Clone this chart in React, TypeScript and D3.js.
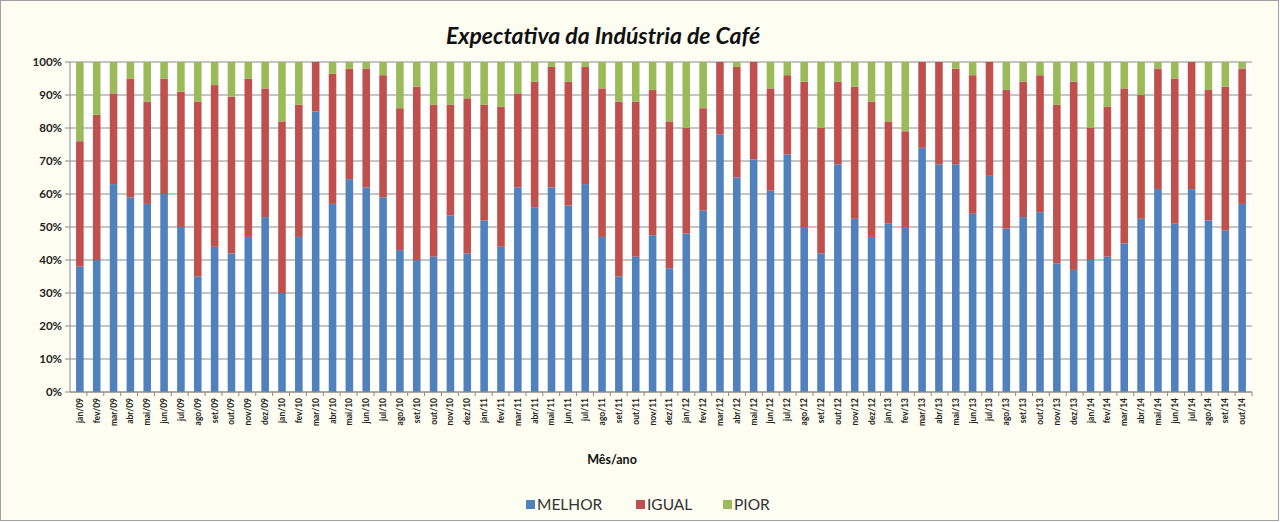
import { useMemo } from "react";
import * as d3 from "d3";

// Mês/ano, jan/09 .. out/14
const months = [
  "jan/09", "fev/09", "mar/09", "abr/09", "mai/09", "jun/09", "jul/09", "ago/09", "set/09", "out/09", "nov/09", "dez/09",
  "jan/10", "fev/10", "mar/10", "abr/10", "mai/10", "jun/10", "jul/10", "ago/10", "set/10", "out/10", "nov/10", "dez/10",
  "jan/11", "fev/11", "mar/11", "abr/11", "mai/11", "jun/11", "jul/11", "ago/11", "set/11", "out/11", "nov/11", "dez/11",
  "jan/12", "fev/12", "mar/12", "abr/12", "mai/12", "jun/12", "jul/12", "ago/12", "set/12", "out/12", "nov/12", "dez/12",
  "jan/13", "fev/13", "mar/13", "abr/13", "mai/13", "jun/13", "jul/13", "ago/13", "set/13", "out/13", "nov/13", "dez/13",
  "jan/14", "fev/14", "mar/14", "abr/14", "mai/14", "jun/14", "jul/14", "ago/14", "set/14", "out/14",
];

// percent shares
const melhor = [
  38, 40, 63, 59, 57, 60, 50, 35, 44, 42, 47, 53,
  30, 47, 85, 57, 64.5, 62, 59, 43, 40, 41, 53.5, 42,
  52, 44, 62, 56, 62, 56.5, 63, 47, 35, 41, 47.5, 37.5,
  48, 55, 78, 65, 70.5, 61, 72, 50, 42, 69, 52.5, 47,
  51, 50, 74, 69, 69, 54, 65.5, 49.5, 53, 54.5, 39, 37,
  40, 41, 45, 52.5, 61.5, 51, 61.5, 52, 49, 57,
];
const igual = [
  38, 44, 27.5, 36, 31, 35, 41, 53, 49, 47.5, 48, 39,
  52, 40, 15, 39.5, 33.5, 36, 37, 43, 52.5, 46, 33.5, 47,
  35, 42.5, 28.5, 38, 36.5, 37.5, 35.5, 45, 53, 47, 44, 44.5,
  32, 31, 22, 33.5, 29.5, 31, 24, 44, 38, 25, 40, 41,
  31, 29, 26, 31, 29, 42, 34.5, 42, 41, 41.5, 48, 57,
  40, 45.5, 47, 37.5, 36.5, 44, 38.5, 39.5, 43.5, 41,
];
const pior = [
  24, 16, 9.5, 5, 12, 5, 9, 12, 7, 10.5, 5, 8,
  18, 13, 0, 3.5, 2, 2, 4, 14, 7.5, 13, 13, 11,
  13, 13.5, 9.5, 6, 1.5, 6, 1.5, 8, 12, 12, 8.5, 18,
  20, 14, 0, 1.5, 0, 8, 4, 6, 20, 6, 7.5, 12,
  18, 21, 0, 0, 2, 4, 0, 8.5, 6, 4, 13, 6,
  20, 13.5, 8, 10, 2, 5, 0, 8.5, 7.5, 2,
];

const seriesNames = ["MELHOR", "IGUAL", "PIOR"];
const colors = ["#4F81BD", "#C0504D", "#9BBB59"];
const yTicks = [0, 10, 20, 30, 40, 50, 60, 70, 80, 90, 100];

const W = 1280;
const H = 522;
const M = { top: 62, right: 28, bottom: 130, left: 70 };
const FONT = "Lato, 'Open Sans', sans-serif";

export default function App() {
  const iw = W - M.left - M.right;
  const ih = H - M.top - M.bottom;

  const { x, y, stacked } = useMemo(() => {
    const rows = months.map((m, i) => ({ m, MELHOR: melhor[i], IGUAL: igual[i], PIOR: pior[i] }));
    const stacked = d3.stack<any>().keys(seriesNames)(rows);
    const x = d3.scaleBand().domain(months).range([0, iw]).paddingInner(0.55).paddingOuter(0.36);
    const y = d3.scaleLinear().domain([0, 100]).range([ih, 0]);
    return { x, y, stacked };
  }, [iw, ih]);

  const step = iw / months.length;

  return (
    <svg width={W} height={H} style={{ position: "absolute", left: 0, top: 0, display: "block" }}>
      <rect x={0.5} y={0.5} width={W - 2} height={H - 2} fill="#FDFDF1" stroke="#A0A0A0" />
      <text x={603} y={44} textAnchor="middle" fontFamily={FONT} fontSize={23} fontWeight={700} fontStyle="italic" fill="#111">
        Expectativa da Indústria de Café
      </text>
      <g transform={`translate(${M.left},${M.top})`}>
        <rect x={0} y={0} width={iw} height={ih} fill="#FFFFFF" />
        {yTicks.map((t) => (
          <g key={t}>
            <line x1={0} x2={iw} y1={y(t)} y2={y(t)} stroke="#8C8C8C" strokeWidth={1} />
            <line x1={-5} x2={0} y1={y(t)} y2={y(t)} stroke="#8C8C8C" />
            <text x={-8} y={y(t)} dy="0.35em" textAnchor="end" fontFamily={FONT} fontSize={11.5} fontWeight={700} fill="#222">
              {t}%
            </text>
          </g>
        ))}
        {stacked.map((s, si) => (
          <g key={s.key} fill={colors[si]}>
            {s.map((d, i) => (
              <rect key={i} x={x(months[i])} width={x.bandwidth()} y={y(d[1])} height={Math.max(0, y(d[0]) - y(d[1]))} />
            ))}
          </g>
        ))}
        <line x1={0} x2={0} y1={0} y2={ih} stroke="#8C8C8C" />
        <line x1={0} x2={iw} y1={ih} y2={ih} stroke="#8C8C8C" />
        {months.map((m, i) => (
          <line key={m} x1={(i + 1) * step} x2={(i + 1) * step} y1={ih} y2={ih + 4} stroke="#8C8C8C" />
        ))}
        {months.map((m) => (
          <text
            key={m}
            transform={`translate(${(x(m) ?? 0) + x.bandwidth() / 2},${ih + 6}) rotate(-90)`}
            dy="0.35em"
            textAnchor="end"
            fontFamily={FONT}
            fontSize={8.5}
            fontWeight={700}
            fill="#222"
          >
            {m}
          </text>
        ))}
      </g>
      <text x={612} y={464} textAnchor="middle" fontFamily={FONT} fontSize={12.5} fontWeight={700} fill="#111">
        Mês/ano
      </text>
      {seriesNames.map((n, i) => {
        const lx = [526, 636, 723][i];
        return (
          <g key={n}>
            <rect x={lx} y={500} width={9} height={9} fill={colors[i]} />
            <text x={lx + 11} y={509.5} fontFamily={FONT} fontSize={15.5} fill="#333">
              {n}
            </text>
          </g>
        );
      })}
    </svg>
  );
}
